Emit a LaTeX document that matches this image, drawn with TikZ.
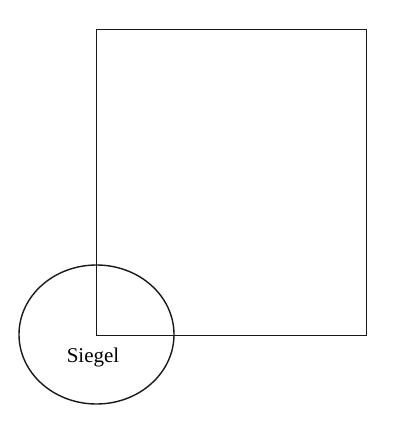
\documentclass[tikz,border=0pt]{standalone}
\usepackage{fontspec}
\setmainfont{Liberation Serif}
\usetikzlibrary{shapes.geometric}
\tikzset{shape line/.style={draw=black!90, line width=1.4pt}}
\begin{document}
\begin{tikzpicture}[x=1pt,y=-1pt]
\useasboundingbox[fill=white] (0,0) rectangle (409,430);
\node[shape line, rectangle, minimum width=270pt, minimum height=306pt, inner sep=0pt, anchor=north west] (box) at (96,29) {};
\node[shape line, ellipse, minimum width=155pt, minimum height=139pt, inner sep=0pt] (seal) at (96.5,334.5) {};
\node[font=\fontsize{21}{23}\selectfont, inner sep=0pt] (label) at (93,357) {Siegel};
\end{tikzpicture}
\end{document}
